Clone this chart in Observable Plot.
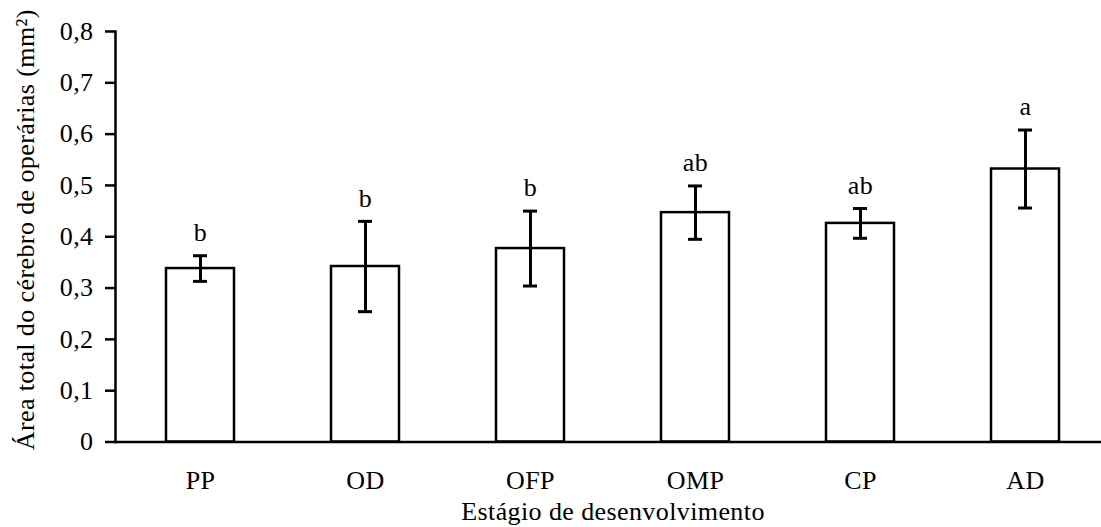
<!DOCTYPE html>
<html><head><meta charset="utf-8">
<script src="https://cdn.jsdelivr.net/npm/d3@7"></script>
<script src="https://cdn.jsdelivr.net/npm/@observablehq/plot@0.6"></script>
<style>
html,body{margin:0;padding:0;background:#fff;}
#chart svg text{letter-spacing:0.4px;}
</style></head><body><div id="chart"></div>
<script>
const stages = ["PP", "OD", "OFP", "OMP", "CP", "AD"];
const means = [0.338, 0.342, 0.377, 0.447, 0.426, 0.532];
const errors = [0.025, 0.088, 0.073, 0.052, 0.029, 0.076];
const letters = ["b", "b", "b", "ab", "ab", "a"];
const yTicks = [0, 0.1, 0.2, 0.3, 0.4, 0.5, 0.6, 0.7, 0.8];
const yTitle = "Área total do cérebro de operárias (mm²)";
const xTitle = "Estágio de desenvolvimento";

const data = stages.map((s, i) => ({
  stage: s, mean: means[i], lo: means[i] - errors[i], hi: means[i] + errors[i], letter: letters[i]
}));

const font = '"Liberation Serif","Times New Roman",Times,serif';
const fmt = d => d === 0 ? "0" : d.toFixed(1).replace(".", ",");

const plot = Plot.plot({
  width: 1101, height: 527,
  marginTop: 31, marginLeft: 115, marginRight: 0, marginBottom: 85.5,
  style: {fontFamily: font, fontSize: "26px", color: "#000", background: "#fff", overflow: "visible"},
  x: {domain: stages, range: [115, 1109], paddingInner: 0.59, paddingOuter: 0.295},
  y: {domain: [0, 0.8]},
  marks: [
    Plot.barY(data, {x: "stage", y: "mean", fill: "#fff", stroke: "#000", strokeWidth: 2.5}),
    Plot.ruleX(data, {x: "stage", y1: "lo", y2: "hi", stroke: "#000", strokeWidth: 3}),
    Plot.tickY(data, {x: "stage", y: "lo", insetLeft: 27, insetRight: 27, stroke: "#000", strokeWidth: 3}),
    Plot.tickY(data, {x: "stage", y: "hi", insetLeft: 27, insetRight: 27, stroke: "#000", strokeWidth: 3}),
    Plot.text(data, {x: "stage", y: "hi", text: "letter", dy: -23, fontSize: 26, fill: "#000"}),
    Plot.axisY({ticks: yTicks, tickSize: 10, tickPadding: 12, tickFormat: fmt, strokeWidth: 2.5, label: null, fontSize: 26}),
    Plot.axisX({tickSize: 0, tickPadding: 28.5, label: null, fontSize: 26}),
    Plot.ruleY([0], {stroke: "#000", strokeWidth: 2.5}),
    Plot.frame({anchor: "left", stroke: "#000", strokeWidth: 2.5}),
    Plot.text([xTitle], {frameAnchor: "bottom", textAnchor: "middle", lineAnchor: "middle", dx: 4.5, dy: 70, fontSize: 26, fill: "#000"}),
    Plot.text([yTitle], {frameAnchor: "left", textAnchor: "middle", lineAnchor: "middle", rotate: -90, dx: -90, dy: -7, fontSize: 26, fill: "#000"})
  ]
});
document.getElementById("chart").appendChild(plot);
</script>
</body></html>
